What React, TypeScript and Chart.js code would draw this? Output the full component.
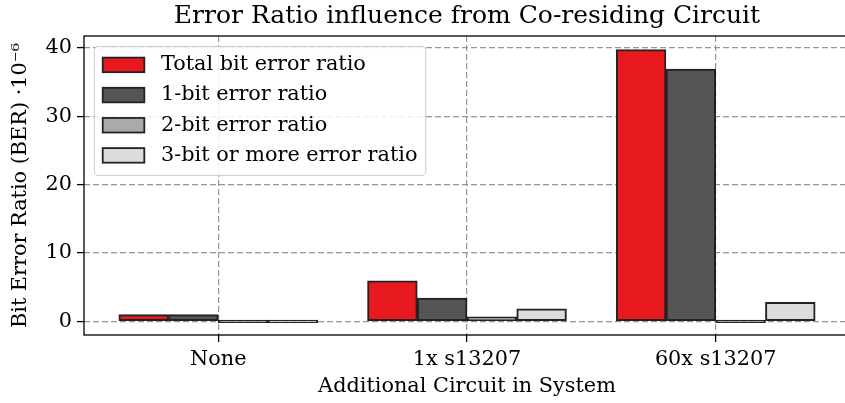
import React, { useEffect, useRef } from "react";
import { Chart, registerables } from "chart.js";

Chart.register(...registerables);

// ---- data ----
const categories = ["None", "1x s13207", "60x s13207"];
const seriesNames = [
  "Total bit error ratio",
  "1-bit error ratio",
  "2-bit error ratio",
  "3-bit or more error ratio",
];
const totalBER = [0.98, 5.93, 39.75];
const oneBitBER = [0.98, 3.42, 36.9];
const twoBitBER = [0, 0.65, 0];
const threeBitBER = [0, 1.85, 2.78];
const seriesColors = ["#e8191e", "#555555", "#aaaaaa", "#dcdcdc"];
const yTicks = [0, 10, 20, 30, 40];

const chartTitle = "Error Ratio influence from Co-residing Circuit";
const xTitle = "Additional Circuit in System";
const yTitle = "Bit Error Ratio (BER) ·10⁻⁶";

// ---- style ----
const FAMILY = "'DejaVu Serif', serif";
const FS = 20.8;
const GRID_COLOR = "#959595";
const EDGE = "#222222";
const BAR_W = 0.2;

const allSeries = [totalBER, oneBitBER, twoBitBER, threeBitBER];

const framePlugin = {
  id: "mplFrameLegend",
  afterDatasetsDraw(chart: any) {
    const { ctx, chartArea } = chart;
    ctx.save();
    // spines
    ctx.strokeStyle = "#000";
    ctx.lineWidth = 1.3;
    ctx.strokeRect(
      chartArea.left,
      chartArea.top,
      chartArea.right - chartArea.left,
      chartArea.bottom - chartArea.top
    );

    // legend
    const F = FS;
    ctx.font = `${F}px ${FAMILY}`;
    const items = chart.data.datasets.map((d: any) => ({
      label: d.label,
      color: d.backgroundColor,
      border: d.borderColor,
    }));
    const textW = Math.max(...items.map((it: any) => ctx.measureText(it.label).width));
    const pad = 0.4 * F;
    const handleL = 2 * F;
    const handleTP = 0.8 * F;
    const rowH = 1.45 * F;
    const textH = 0.98 * F;
    const x0 = chartArea.left + 0.5 * F;
    const y0 = chartArea.top + 0.5 * F;
    const w = 2 * pad + handleL + handleTP + textW;
    const h = 2 * pad + textH + (items.length - 1) * rowH + 1.5;
    const r = 0.2 * F;

    ctx.beginPath();
    ctx.moveTo(x0 + r, y0);
    ctx.lineTo(x0 + w - r, y0);
    ctx.quadraticCurveTo(x0 + w, y0, x0 + w, y0 + r);
    ctx.lineTo(x0 + w, y0 + h - r);
    ctx.quadraticCurveTo(x0 + w, y0 + h, x0 + w - r, y0 + h);
    ctx.lineTo(x0 + r, y0 + h);
    ctx.quadraticCurveTo(x0, y0 + h, x0, y0 + h - r);
    ctx.lineTo(x0, y0 + r);
    ctx.quadraticCurveTo(x0, y0, x0 + r, y0);
    ctx.closePath();
    ctx.fillStyle = "rgba(255,255,255,0.85)";
    ctx.fill();
    ctx.strokeStyle = "#cccccc";
    ctx.lineWidth = 1;
    ctx.stroke();

    items.forEach((it: any, k: number) => {
      const cy = y0 + pad + textH / 2 + k * rowH;
      const hh = 0.7 * F;
      ctx.fillStyle = it.color;
      ctx.fillRect(x0 + pad, cy - hh / 2, handleL, hh);
      ctx.strokeStyle = it.border;
      ctx.lineWidth = 1.8;
      ctx.strokeRect(x0 + pad, cy - hh / 2, handleL, hh);
      ctx.fillStyle = "#000";
      ctx.textBaseline = "middle";
      ctx.textAlign = "left";
      ctx.fillText(it.label, x0 + pad + handleL + handleTP, cy);
    });
    ctx.restore();
  },
};

export default function App() {
  const canvasRef = useRef<HTMLCanvasElement | null>(null);

  useEffect(() => {
    const canvas = canvasRef.current;
    if (!canvas) return;
    const n = allSeries.length;
    const datasets = allSeries.map((vals, k) => ({
      label: seriesNames[k],
      data: vals.map((v, i) => ({ x: i + (k - (n - 1) / 2) * BAR_W, y: v })),
      backgroundColor: seriesColors[k],
      borderColor: EDGE,
      borderWidth: 2,
      borderSkipped: false as const,
      grouped: false,
      barPercentage: 1,
      categoryPercentage: 1,
      minBarLength: 2.5,
    }));

    const tickFont = { family: FAMILY, size: FS };
    const chart = new Chart(canvas, {
      type: "bar",
      data: { datasets },
      plugins: [framePlugin],
      options: {
        responsive: false,
        animation: false,
        devicePixelRatio: 1,
        layout: { padding: { left: 0, right: 1, top: 0, bottom: 0 } },
        plugins: {
          legend: { display: false },
          tooltip: { enabled: false },
          title: {
            display: true,
            fullSize: false,
            text: chartTitle,
            color: "#000",
            font: { family: FAMILY, size: 25, weight: "normal" as any, lineHeight: 1.2 },
            padding: { top: 1, bottom: 5 },
          },
        },
        scales: {
          x: {
            type: "linear",
            offset: false,
            min: -0.54,
            max: 2.54,
            afterBuildTicks: (s: any) => {
              s.ticks = categories.map((_, i) => ({ value: i }));
            },
            afterFit: (s: any) => {
              s.height = 68;
            },
            ticks: {
              callback: (v: any) => categories[v] ?? "",
              font: tickFont,
              color: "#000",
              padding: 5,
              maxRotation: 0,
              autoSkip: false,
            },
            grid: {
              offset: false,
              color: GRID_COLOR,
              lineWidth: 1.2,
              drawTicks: true,
              tickLength: 7,
              tickColor: "#000",
              tickWidth: 1.3,
            },
            border: { display: false, dash: [6, 3] },
            title: {
              display: true,
              text: xTitle,
              color: "#000",
              font: { family: FAMILY, size: FS, lineHeight: 1.2 },
              padding: { top: 0, bottom: 3.5 },
            },
          },
          y: {
            type: "linear",
            min: -1.99,
            max: 41.74,
            afterBuildTicks: (s: any) => {
              s.ticks = yTicks.map((v) => ({ value: v }));
            },
            afterFit: (s: any) => {
              s.width = 84;
            },
            ticks: {
              font: tickFont,
              color: "#000",
              padding: 5,
            },
            grid: {
              color: GRID_COLOR,
              lineWidth: 1.2,
              drawTicks: true,
              tickLength: 7,
              tickColor: "#000",
              tickWidth: 1.3,
            },
            border: { display: false, dash: [6, 3] },
            title: {
              display: true,
              text: yTitle,
              color: "#000",
              font: { family: FAMILY, size: FS, lineHeight: 1.2 },
              padding: { top: 8, bottom: 0 },
            },
          },
        },
      },
    } as any);
    return () => chart.destroy();
  }, []);

  return (
    <div
      style={{
        position: "fixed",
        left: 0,
        top: 0,
        width: 845,
        height: 403,
        overflow: "hidden",
        background: "#fff",
      }}
    >
      <canvas
        ref={canvasRef}
        width={851}
        height={403}
        style={{ display: "block", width: 851, height: 403 }}
      />
    </div>
  );
}
